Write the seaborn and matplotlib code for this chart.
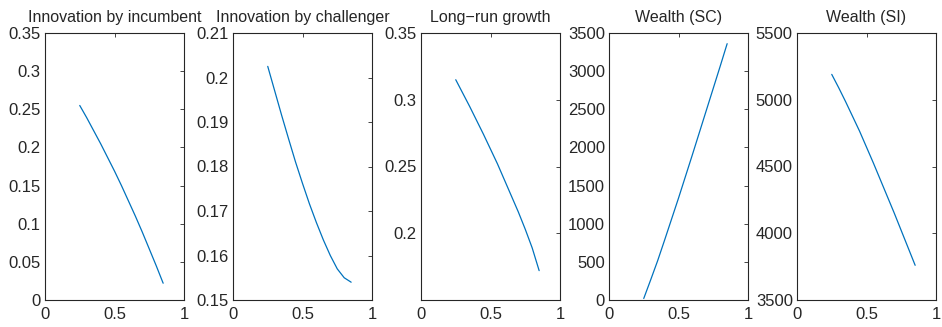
import numpy as np
import pandas as pd
import matplotlib
matplotlib.use('Agg')
import matplotlib.pyplot as plt
import seaborn as sns

# Values
x_vals = [0.25, 0.30, 0.35, 0.40, 0.45, 0.50, 0.55, 0.60, 0.65, 0.70, 0.75, 0.80, 0.85]
innov_incumbent = [0.255, 0.239, 0.222, 0.205, 0.187, 0.169, 0.150, 0.130, 0.110,
                   0.089, 0.067, 0.045, 0.022]
innov_challenger = [0.2025, 0.197, 0.1915, 0.1862, 0.181, 0.1762, 0.1716, 0.1674,
                    0.1635, 0.160, 0.157, 0.155, 0.154]
growth = [0.315, 0.305, 0.295, 0.2845, 0.274, 0.263, 0.252, 0.240, 0.228, 0.216,
          0.203, 0.189, 0.172]
wealth_sc = [20, 265, 515, 785, 1060, 1335, 1620, 1905, 2195, 2485, 2775, 3065, 3360]
wealth_si = [5190, 5090, 4985, 4875, 4765, 4645, 4525, 4400, 4275, 4150, 4020, 3890, 3760]

titles = ['Innovation by incumbent', 'Innovation by challenger', 'Long\u2212run growth',
          'Wealth (SC)', 'Wealth (SI)']
series = [innov_incumbent, innov_challenger, growth, wealth_sc, wealth_si]
ylims = [(0, 0.35), (0.15, 0.21), (0.15, 0.35), (0, 3500), (3500, 5500)]
yticks = [
    [0, 0.05, 0.1, 0.15, 0.2, 0.25, 0.3, 0.35],
    [0.15, 0.16, 0.17, 0.18, 0.19, 0.2, 0.21],
    [0.2, 0.25, 0.3, 0.35],
    [0, 500, 1000, 1500, 2000, 2500, 3000, 3500],
    [3500, 4000, 4500, 5000, 5500],
]
yticklabels = [
    ['0', '0.05', '0.1', '0.15', '0.2', '0.25', '0.3', '0.35'],
    ['0.15', '0.16', '0.17', '0.18', '0.19', '0.2', '0.21'],
    ['0.2', '0.25', '0.3', '0.35'],
    ['0', '500', '1000', '1500', '2000', '2500', '3000', '3500'],
    ['3500', '4000', '4500', '5000', '5500'],
]

sns.set_style('white')
plt.rcParams['font.family'] = ['Liberation Sans', 'DejaVu Sans']

fig = plt.figure(figsize=(9.42, 3.27), dpi=100)
W, H = 942, 327
lefts = [45, 233, 421, 609, 797]
for i in range(5):
    ax = fig.add_axes([lefts[i] / W, (H - 300) / H, 139 / W, 267 / H])
    df = pd.DataFrame({'x': x_vals, 'y': series[i]})
    sns.lineplot(data=df, x='x', y='y', ax=ax, color='#0072BD', linewidth=0.9)
    ax.set_xlim(0, 1)
    ax.set_ylim(*ylims[i])
    ax.set_xticks([0, 0.5, 1])
    ax.set_xticklabels(['0', '0.5', '1'])
    ax.set_yticks(yticks[i])
    ax.set_yticklabels(yticklabels[i])
    ax.set_xlabel('')
    ax.set_ylabel('')
    ax.set_title(titles[i], fontsize=11.5, pad=8, color='#262626')
    ax.tick_params(axis='both', direction='in', top=True, right=True, length=3,
                   width=0.6, labelsize=12, colors='#262626')
    ax.tick_params(axis='x', pad=5)
    ax.tick_params(axis='y', pad=3)
    for s in ax.spines.values():
        s.set_color('#262626')
        s.set_linewidth(0.8)

fig.savefig('out.png', dpi=100)
